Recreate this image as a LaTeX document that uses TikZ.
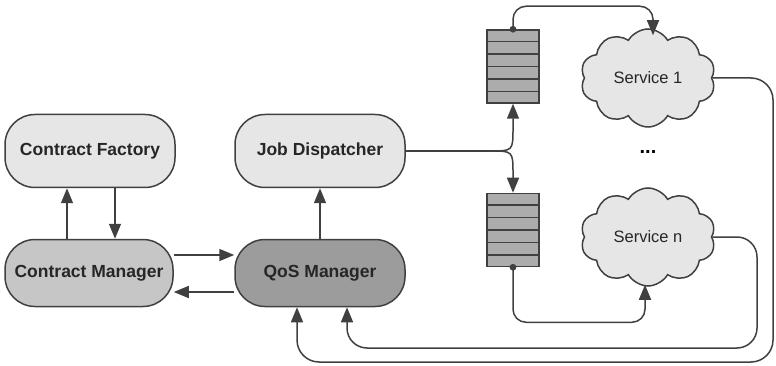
\documentclass[tikz,border=0pt]{standalone}
\usepackage{fontspec}
\setmainfont{Liberation Sans}
\usetikzlibrary{arrows.meta,shapes.symbols,calc}
\definecolor{lightfill}{HTML}{E6E6E6}
\definecolor{midfill}{HTML}{C6C6C6}
\definecolor{darkfill}{HTML}{9C9C9C}
\definecolor{queuefill}{HTML}{ACACAC}
\definecolor{linecol}{HTML}{404040}
\tikzset{
  box/.style={draw=linecol, line width=1.5pt, rounded corners=30pt, minimum width=170pt, minimum height=73pt, font=\bfseries\fontsize{17.5}{20}\selectfont, text=black!85},
  svc/.style={cloud, cloud puffs=10, cloud puff arc=120, aspect=1.4, draw=linecol, line width=1.5pt, fill=lightfill, minimum width=135pt, minimum height=98pt, inner sep=0pt, font=\fontsize{16.5}{20}\selectfont, text=black!85},
  queuebox/.style={draw=linecol, line width=1.5pt, fill=queuefill, minimum width=52pt, minimum height=73pt, inner sep=0pt},
  arr/.style={draw=linecol, line width=1.5pt, -{Triangle[length=15pt,width=12pt]}},
  ln/.style={draw=linecol, line width=1.5pt}
}
\begin{document}
\begin{tikzpicture}[x=1pt,y=-1pt]
\useasboundingbox (0,0) rectangle (776,366);
\node[box, fill=lightfill] (cf) at (90,151) {Contract Factory};
\node[box, fill=lightfill] (jd) at (320,151) {Job Dispatcher};
\node[box, fill=midfill, minimum width=168pt, minimum height=67pt] (cm) at (89,273) {Contract Manager};
\node[box, fill=darkfill, minimum width=170pt, minimum height=67pt] (qos) at (320,273) {QoS Manager};
\node[queuebox] (q1) at (513,66.5) {};
\node[queuebox] (q2) at (513,230) {};
\foreach \q in {q1,q2}{
  \foreach \i in {1,...,5}{
    \draw[linecol, line width=1.5pt] ($(\q.north west)!\i/6!(\q.south west)$) -- ($(\q.north east)!\i/6!(\q.south east)$);
  }
}
\node[svc] (s1) at (648,78) {Service 1};
\node[svc] (sn) at (648,237) {Service n};
\node[font=\bfseries\fontsize{20}{22}\selectfont] (dots) at (648,152) {...};
% left connectors
\draw[arr] ([xshift=-22pt]cm.north) -- ([xshift=-23pt]cf.south);
\draw[arr] ([xshift=25pt]cf.south) -- ([xshift=26pt]cm.north);
\draw[arr] ([yshift=18pt]cm.east) -- ([yshift=18pt]qos.west);
\draw[arr] ([yshift=-19pt]qos.west) -- ([yshift=-19pt]cm.east);
\draw[arr] (qos.north) -- (jd.south);
% dispatcher split
\coordinate (split) at (490,151);
\draw[ln] (jd.east) -- (split);
\draw[arr] (split) .. controls (513,151) .. (513,128) -- (q1.south);
\draw[arr] (split) .. controls (513,151) .. (513,174) -- (q2.north);
% queue to services
\fill[linecol] (q1.north) circle (3.4pt);
\fill[linecol] (q2.south) circle (3.4pt);
\draw[arr, rounded corners=13pt] (q1.north) -- ++(0,-23) -| ([xshift=5pt,yshift=-7pt]s1.north);
\draw[arr, rounded corners=13pt] (q2.south) -- ++(0,55) -| ([xshift=-3pt,yshift=2pt]sn.south);
% feedback
\draw[arr, rounded corners=22pt] (s1.east) -- (773,78) -- (773,362) -| ([xshift=-23pt]qos.south);
\draw[arr, rounded corners=20pt] (sn.east) -- (757,237) -- (757,348) -| ([xshift=27pt]qos.south);
\end{tikzpicture}
\end{document}
